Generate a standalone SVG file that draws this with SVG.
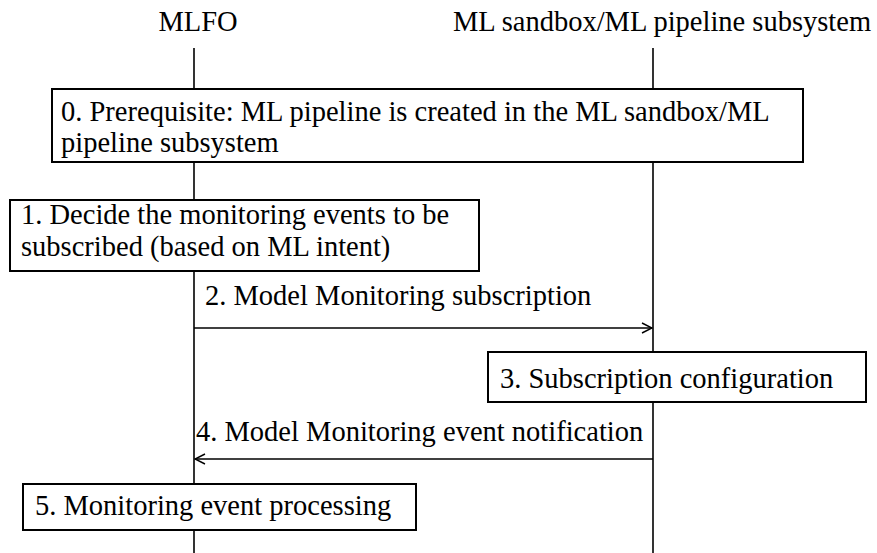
<svg xmlns="http://www.w3.org/2000/svg" width="877" height="553" viewBox="0 0 877 553">
  <style>
    .box { fill: #fff; stroke: #000; stroke-width: 2; }
    .life { stroke: #000; stroke-width: 1.6; fill: none; }
    .msg { stroke: #000; stroke-width: 1.4; fill: none; }
  </style>
  <defs>
    <marker id="arrow" viewBox="0 0 12 12" refX="11" refY="6" markerWidth="12" markerHeight="12" markerUnits="userSpaceOnUse" orient="auto">
      <path d="M1,1 L11,6 L1,11" fill="none" stroke="#000" stroke-width="1.4"/>
    </marker>
  </defs>

  <!-- lifelines -->
  <g id="lifelines">
    <g id="mlfo">
      <text x="198" y="31" text-anchor="middle" font-family="Liberation Serif" font-size="28.5" fill="#000">MLFO</text>
      <line class="life" x1="194" y1="48" x2="194" y2="553"/>
    </g>
    <g id="sandbox">
      <text x="662" y="31" text-anchor="middle" font-family="Liberation Serif" font-size="28.5" fill="#000">ML sandbox/ML pipeline subsystem</text>
      <line class="life" x1="653" y1="48" x2="653" y2="553"/>
    </g>
  </g>

  <!-- messages -->
  <g id="connectors">
    <line class="msg" x1="194" y1="328" x2="652" y2="328" marker-end="url(#arrow)"/>
    <text x="205" y="305" font-family="Liberation Serif" font-size="28.5" fill="#000">2. Model Monitoring subscription</text>
    <line class="msg" x1="653" y1="459" x2="195" y2="459" marker-end="url(#arrow)"/>
    <text x="196" y="441" font-family="Liberation Serif" font-size="28.5" fill="#000">4. Model Monitoring event notification</text>
  </g>

  <!-- steps -->
  <g id="step0">
    <rect class="box" x="52" y="89" width="751" height="73"/>
    <text x="61" y="121" font-family="Liberation Serif" font-size="28.5" fill="#000">0. Prerequisite: ML pipeline is created in the ML sandbox/ML</text>
    <text x="61" y="152" font-family="Liberation Serif" font-size="28.5" fill="#000">pipeline subsystem</text>
  </g>
  <g id="step1">
    <rect class="box" x="10" y="200" width="469" height="71"/>
    <text x="21" y="224" font-family="Liberation Serif" font-size="28.5" fill="#000">1. Decide the monitoring events to be</text>
    <text x="21" y="256" font-family="Liberation Serif" font-size="28.5" fill="#000">subscribed (based on ML intent)</text>
  </g>
  <g id="step3">
    <rect class="box" x="488" y="352" width="378" height="50"/>
    <text x="500" y="388" font-family="Liberation Serif" font-size="28.5" fill="#000">3. Subscription configuration</text>
  </g>
  <g id="step5">
    <rect class="box" x="23" y="484" width="393" height="46"/>
    <text x="35" y="515" font-family="Liberation Serif" font-size="28.5" fill="#000">5. Monitoring event processing</text>
  </g>
</svg>
